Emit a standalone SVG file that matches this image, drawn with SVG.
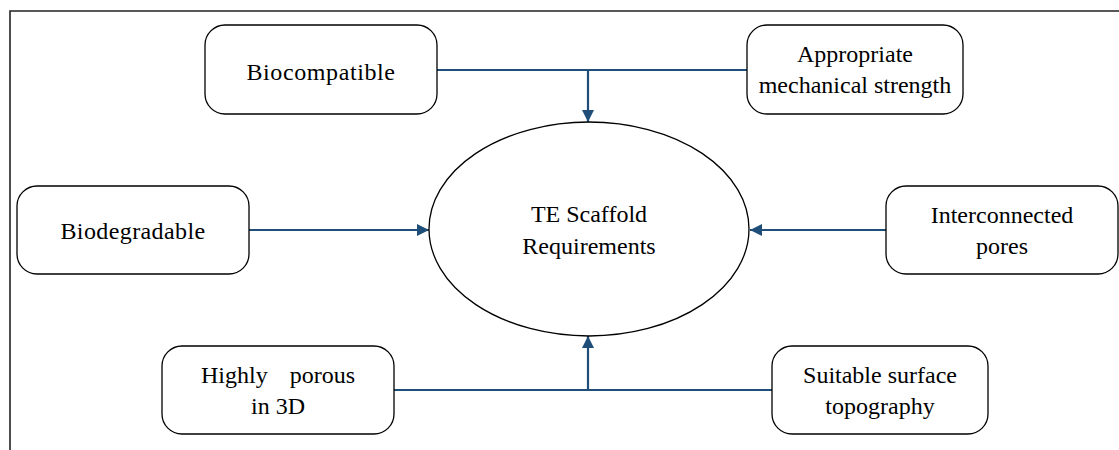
<svg xmlns="http://www.w3.org/2000/svg" width="1119" height="450" viewBox="0 0 1119 450">
  <style>
    .box { fill: #ffffff; stroke: #000000; stroke-width: 1.3; }
    .hub { fill: #ffffff; stroke: #000000; stroke-width: 1.3; }
    .lbl { font-size: 24px; fill: #000000; text-anchor: middle; }
    .link { fill: none; stroke: #1f4e79; stroke-width: 2.2; }
    .frame { fill: none; stroke: #222222; stroke-width: 1.6; }
  </style>
  <defs>
    <marker id="arrow" viewBox="0 0 12 12" refX="12" refY="6" markerWidth="12" markerHeight="12" markerUnits="userSpaceOnUse" orient="auto">
      <path d="M0,0 L12,6 L0,12 Z" fill="#1f4e79"/>
    </marker>
  </defs>

  <!-- open frame -->
  <path class="frame" d="M10,450 V11 H1119"/>

  <!-- connectors -->
  <g id="connectors">
    <path class="link" d="M437,70 H747"/>
    <path class="link" d="M588,70 V122" marker-end="url(#arrow)"/>
    <path class="link" d="M249,230 H429" marker-end="url(#arrow)"/>
    <path class="link" d="M886,230 H750" marker-end="url(#arrow)"/>
    <path class="link" d="M394,390 H772"/>
    <path class="link" d="M588,390 V336" marker-end="url(#arrow)"/>
  </g>

  <g font-family="'Liberation Serif', 'Times New Roman', 'DejaVu Serif', serif">
    <g id="hub">
      <ellipse class="hub" cx="589" cy="229" rx="160" ry="107"/>
      <text class="lbl" x="589" y="222">TE Scaffold</text>
      <text class="lbl" x="589" y="254">Requirements</text>
    </g>

    <g id="biocompatible">
      <rect class="box" x="205" y="25" width="232" height="89" rx="20" ry="20"/>
      <text class="lbl" x="321" y="80" letter-spacing="0.6">Biocompatible</text>
    </g>

    <g id="mechanical-strength">
      <rect class="box" x="747" y="25" width="216" height="89" rx="20" ry="20"/>
      <text class="lbl" x="855" y="62">Appropriate</text>
      <text class="lbl" x="855" y="93">mechanical strength</text>
    </g>

    <g id="biodegradable">
      <rect class="box" x="17" y="186" width="232" height="88" rx="20" ry="20"/>
      <text class="lbl" x="133" y="239" letter-spacing="0.4">Biodegradable</text>
    </g>

    <g id="interconnected-pores">
      <rect class="box" x="886" y="186" width="232" height="88" rx="20" ry="20"/>
      <text class="lbl" x="1002" y="223">Interconnected</text>
      <text class="lbl" x="1002" y="254">pores</text>
    </g>

    <g id="highly-porous">
      <rect class="box" x="162" y="346" width="232" height="88" rx="20" ry="20"/>
      <text class="lbl" x="278" y="383" word-spacing="16">Highly porous</text>
      <text class="lbl" x="278" y="414">in 3D</text>
    </g>

    <g id="surface-topography">
      <rect class="box" x="772" y="346" width="216" height="88" rx="20" ry="20"/>
      <text class="lbl" x="880" y="383">Suitable surface</text>
      <text class="lbl" x="880" y="414">topography</text>
    </g>
  </g>
</svg>
